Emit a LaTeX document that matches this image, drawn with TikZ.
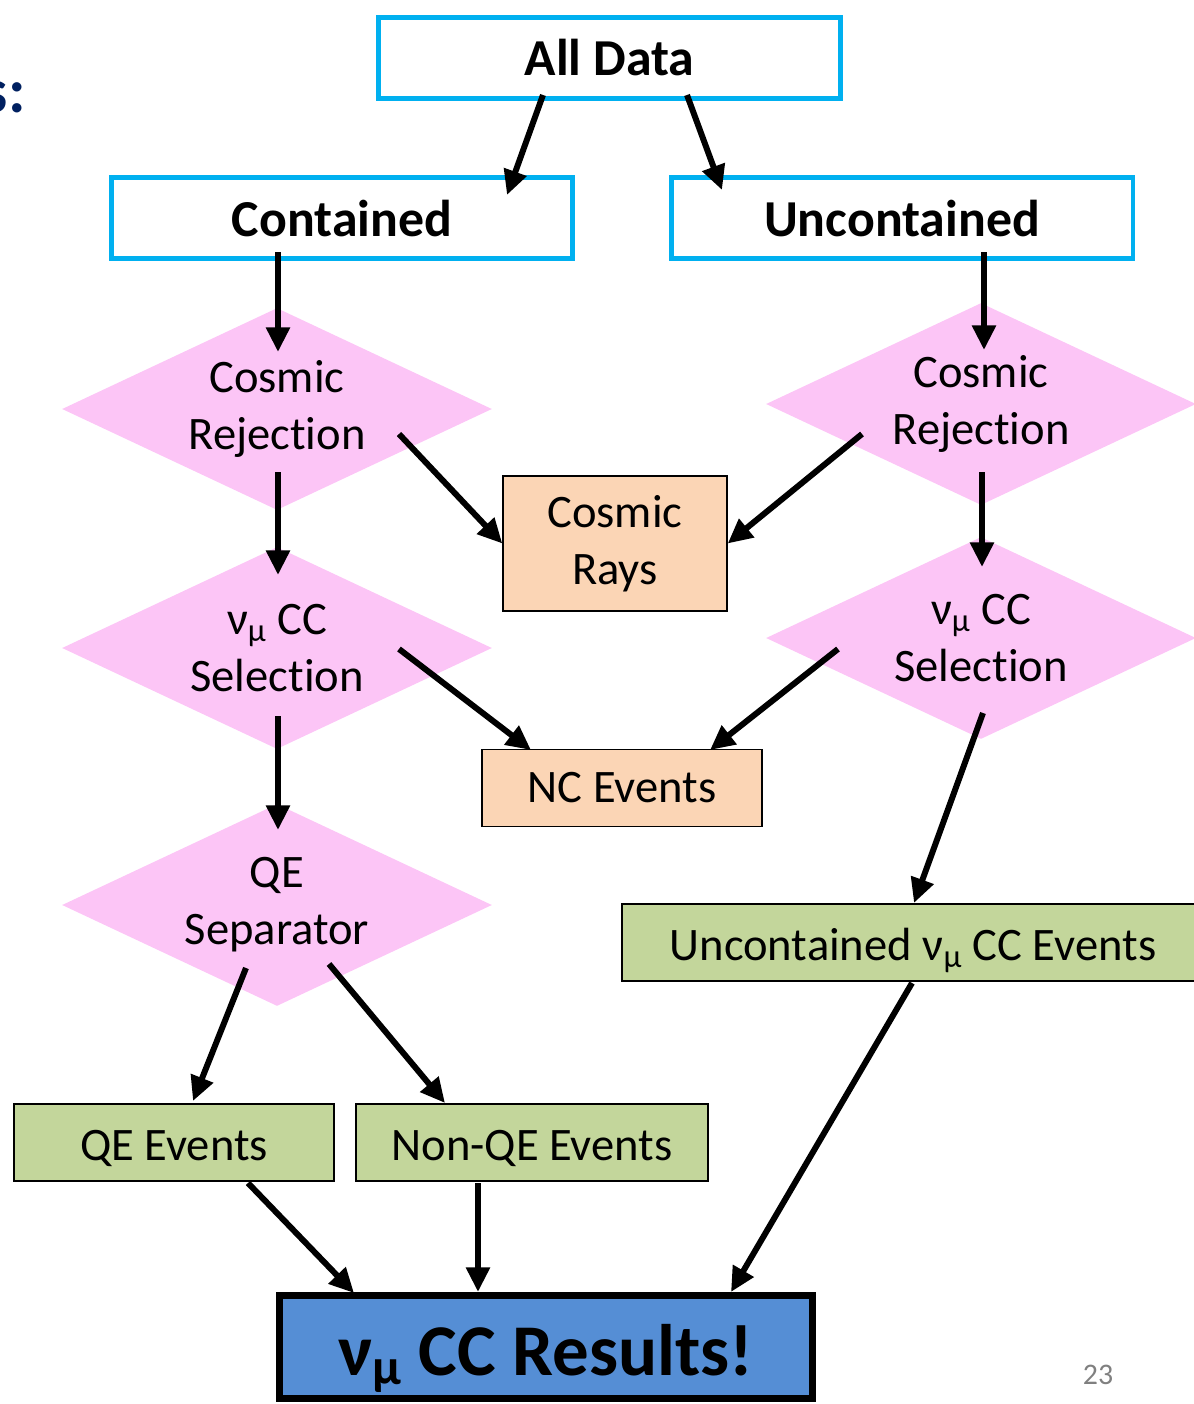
\documentclass[tikz,border=0pt]{standalone}
\usepackage{fontspec}
\setmainfont{Carlito}[Ligatures=NoCommon]
\usetikzlibrary{shapes.geometric,arrows.meta}
\definecolor{cyanline}{RGB}{0,176,240}
\definecolor{pinkdia}{RGB}{252,197,246}
\definecolor{peach}{RGB}{251,213,181}
\definecolor{olivegreen}{RGB}{195,214,155}
\definecolor{resblue}{RGB}{85,142,213}
\definecolor{navy}{RGB}{0,32,96}
\newcommand{\numu}{ν\textsubscript{μ}}
\begin{document}
\begin{tikzpicture}[x=0.02cm,y=-0.02cm,
  reg/.style={font=\fontsize{26.5}{32.4}\selectfont,align=center},
  topbox/.style={draw=cyanline,line width=2.8pt,minimum width=9.24cm,minimum height=1.62cm,
    font=\fontsize{29.5}{35}\selectfont\bfseries},
  dia/.style={diamond,aspect=2.13,fill=pinkdia,inner sep=0pt,minimum width=8.6cm,minimum height=4.04cm,reg},
  orbox/.style={draw,line width=0.8pt,fill=peach,minimum height=1.54cm,reg},
  grbox/.style={draw,line width=0.8pt,fill=olivegreen,minimum height=1.54cm,text height=24pt,text depth=3pt,reg},
  arr/.style={-{Triangle[length=14pt,width=13pt]},line width=3.4pt}]
\useasboundingbox (0,0) rectangle (1194,1404);
% top level split
\node[topbox] (all) at (609.5,58) {All Data};
\node[topbox] (cont) at (342,218) {Contained};
\node[topbox] (uncont) at (902,218) {Uncontained};
% selection diamonds
\node[dia] (lcos) at (277,409) {Cosmic\\Rejection};
\node[dia] (lsel) at (277,648) {\numu\ CC\\Selection};
\node[dia] (qesep) at (277,905) {QE\\Separator};
\node[dia] (rcos) at (981,404) {Cosmic\\Rejection};
\node[dia] (rsel) at (981,638) {\numu\ CC\\Selection};
% outputs
\node[orbox,minimum width=4.48cm,minimum height=2.7cm] (rays) at (615,543.5) {Cosmic\\Rays};
\node[orbox,minimum width=5.6cm] (nc) at (622,788) {NC Events};
\node[grbox,minimum width=11.64cm] (uev) at (913,942.5) {Uncontained \numu\ CC Events};
\node[grbox,minimum width=6.4cm] (qe) at (174,1142.5) {QE Events};
\node[grbox,minimum width=7.04cm] (nqe) at (532,1142.5) {Non-QE Events};
\node[draw,line width=4pt,fill=resblue,minimum width=10.66cm,minimum height=2.06cm,
  text height=36pt,text depth=4pt,
  font=\fontsize{41.5}{48}\selectfont\bfseries] (res) at (546,1347) {\numu\ CC Results!};
% slide leftovers
\node[anchor=base east,inner sep=0pt,text=navy,font=\fontsize{36}{40}\selectfont\bfseries] (lefttxt) at (26,112) {s:};
\node[text=gray,font=\fontsize{17}{20}\selectfont] (pagenum) at (1098,1375) {23};
% connectors
\draw[arr] ([shift={(-66.5,37)}]all.center) -- ([shift={(165,-23)}]cont.center);
\draw[arr] ([shift={(77.5,37)}]all.center) -- ([shift={(-180,-28)}]uncont.center);
\draw[arr] ([shift={(-64,34)}]cont.center) -- ([shift={(1,-57)}]lcos.center);
\draw[arr] ([shift={(82,34)}]uncont.center) -- ([shift={(3,-54)}]rcos.center);
\draw[arr] ([shift={(1,63)}]lcos.center) -- ([shift={(1,-73)}]lsel.center);
\draw[arr] ([shift={(122,25)}]lcos.center) -- (rays.west);
\draw[arr] ([shift={(-119,30)}]rcos.center) -- (rays.east);
\draw[arr] ([shift={(1,68)}]rcos.center) -- ([shift={(1,-71)}]rsel.center);
\draw[arr] ([shift={(122,1)}]lsel.center) -- ([shift={(-91,-38)}]nc.center);
\draw[arr] ([shift={(-143,11)}]rsel.center) -- ([shift={(88,-38)}]nc.center);
\draw[arr] ([shift={(1,68)}]lsel.center) -- ([shift={(1,-75)}]qesep.center);
\draw[arr] ([shift={(2,75)}]rsel.center) -- ([shift={(1,-39.5)}]uev.center);
\draw[arr] ([shift={(-31,63)}]qesep.center) -- ([shift={(19,-41.5)}]qe.center);
\draw[arr] ([shift={(52,59)}]qesep.center) -- ([shift={(-87,-39.5)}]nqe.center);
\draw[arr] ([shift={(74,40.5)}]qe.center) -- ([shift={(-192,-54)}]res.center);
\draw[arr] ([shift={(-54,40.5)}]nqe.center) -- ([shift={(-68,-55)}]res.center);
\draw[arr] ([shift={(-1,40.5)}]uev.center) -- ([shift={(185,-55)}]res.center);
\end{tikzpicture}
\end{document}
